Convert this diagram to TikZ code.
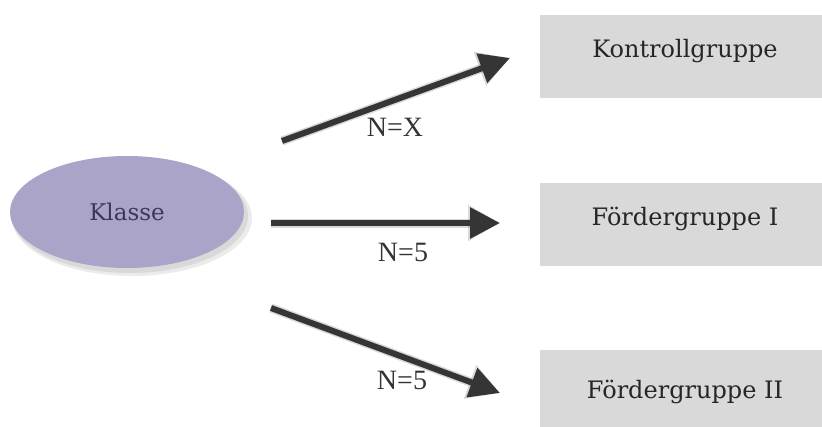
\documentclass[tikz,border=0pt]{standalone}
\usepackage{fontspec}
\setmainfont{Liberation Serif}
\newfontfamily\boxfont{DejaVu Serif}
\usetikzlibrary{arrows.meta,shapes.geometric}
\definecolor{lav}{HTML}{A9A4C8}
\definecolor{boxgray}{HTML}{D9D9D9}
\definecolor{arr}{HTML}{353535}
\definecolor{klassetext}{HTML}{3E3858}
\begin{document}
\begin{tikzpicture}[x=1pt,y=-1pt,
  grp/.style={fill=boxgray,draw=none,minimum width=290pt,minimum height=83pt,inner sep=0pt,font=\boxfont\fontsize{24}{26}\selectfont,text=black!85},
  raised/.style={text depth=16pt},
  arrowline/.style={draw=arr,line width=6pt,-{Triangle[length=30pt,width=30pt]}},
  arrowshadow/.style={draw=black,opacity=0.15,line width=9pt,-{Triangle[length=32pt,width=34pt]}},
  lbl/.style={font=\fontsize{28}{30}\selectfont,text=black!80}]
\useasboundingbox (0,0) rectangle (822,426);
% ellipse
\fill[black,opacity=0.08] (132,218) ellipse (120pt and 58pt);
\fill[black,opacity=0.08] (130,216) ellipse (118pt and 57pt);
\node[ellipse,fill=lav,minimum width=234pt,minimum height=112pt,inner sep=0pt,font=\boxfont\fontsize{23}{25}\selectfont,text=klassetext] (klasse) at (127,212) {Klasse};
% boxes
\node[grp,raised] (kg) at (685,56.5) {Kontrollgruppe};
\node[grp,raised] (f1) at (685,224.5) {Fördergruppe I};
\node[grp] (f2) at (685,391.5) {Fördergruppe II};
% arrow coordinates
\coordinate (a1s) at (282,141);
\coordinate (a1e) at (510,58);
\coordinate (a2s) at (271,223);
\coordinate (a2e) at (500,223);
\coordinate (a3s) at (271,308);
\coordinate (a3e) at (500,393);
% shadows
\begin{scope}[shift={(3,5)}]
\draw[arrowshadow] (a1s) -- (a1e);
\draw[arrowshadow] (a2s) -- (a2e);
\draw[arrowshadow] (a3s) -- (a3e);
\end{scope}
\draw[arrowline] (a1s) -- (a1e);
\draw[arrowline] (a2s) -- (a2e);
\draw[arrowline] (a3s) -- (a3e);
% labels
\node[lbl] (l1) at (395,127) {N=X};
\node[lbl] (l2) at (403,252) {N=5};
\node[lbl] (l3) at (402,380) {N=5};
\end{tikzpicture}
\end{document}
